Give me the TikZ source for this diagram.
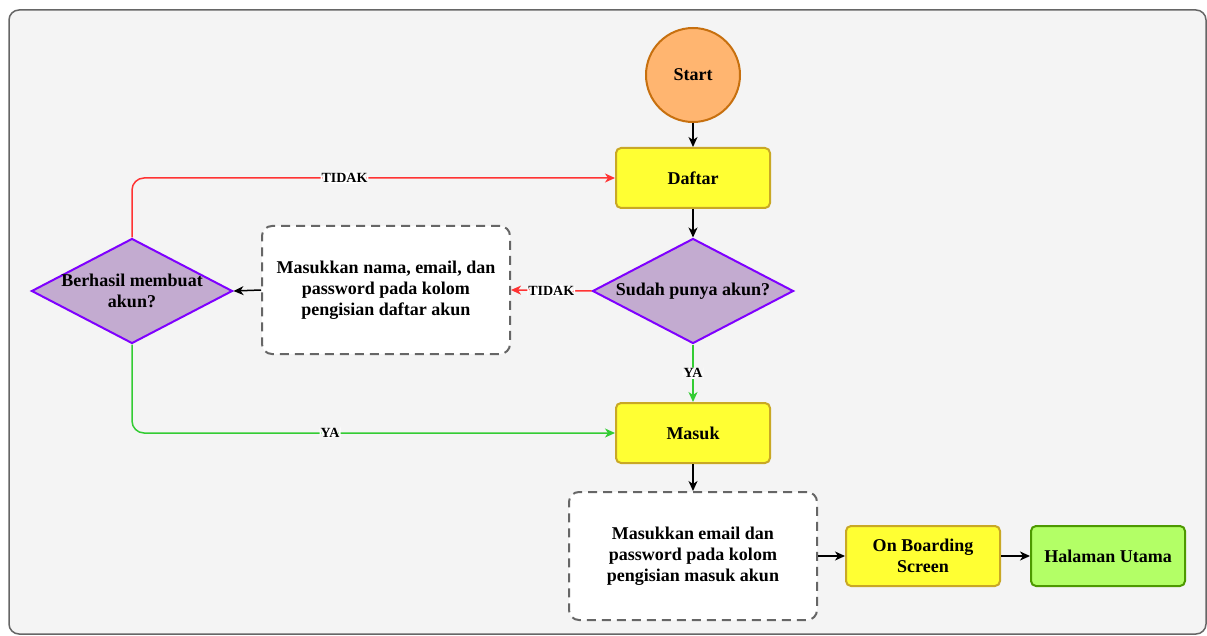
\documentclass[tikz,border=0pt]{standalone}
\usepackage{fontspec}
\setmainfont{Liberation Serif}
\usetikzlibrary{arrows.meta,shapes.geometric,positioning}
\definecolor{framefill}{HTML}{F4F4F4}
\definecolor{framedraw}{HTML}{666666}
\definecolor{startfill}{HTML}{FFB570}
\definecolor{startdraw}{HTML}{C7700F}
\definecolor{yelfill}{HTML}{FFFF33}
\definecolor{yeldraw}{HTML}{C9A825}
\definecolor{purfill}{HTML}{C3ABD0}
\definecolor{purdraw}{HTML}{7F00FF}
\definecolor{grnfill}{HTML}{B3FF66}
\definecolor{grndraw}{HTML}{4D9900}
\definecolor{redline}{HTML}{FF3333}
\definecolor{grnline}{HTML}{33CC33}
\definecolor{dashdraw}{HTML}{666666}
\tikzset{
  txt/.style={font=\bfseries\fontsize{18}{21}\selectfont, align=center, text=black},
  lbl/.style={font=\bfseries\fontsize{14}{16}\selectfont, fill=white, inner sep=1pt, text=black},
  startnode/.style={circle, draw=startdraw, fill=startfill, line width=2pt, minimum size=94pt, inner sep=0pt, txt},
  procbox/.style={rectangle, rounded corners=5pt, draw=yeldraw, fill=yelfill, line width=2pt, minimum width=154pt, minimum height=60pt, inner sep=2pt, txt},
  endbox/.style={procbox, draw=grndraw, fill=grnfill},
  dashbox/.style={rectangle, rounded corners=10pt, draw=dashdraw, fill=white, line width=2pt, dash pattern=on 9pt off 6pt, minimum width=248pt, minimum height=128pt, inner sep=2pt, txt},
  decision/.style={diamond, draw=purdraw, fill=purfill, line width=2pt, minimum width=201pt, minimum height=105pt, inner sep=0pt},
  conn/.style={line width=1.5pt, -{Stealth[length=10pt,width=9pt,inset=3pt]}, rounded corners=12pt},
}
\begin{document}
\begin{tikzpicture}[x=1pt,y=-1pt]
\useasboundingbox (0,0) rectangle (1207,636);
\draw[fill=framefill, draw=framedraw, line width=1.5pt, rounded corners=10pt] (9,10) rectangle (1206,634);

\node[startnode] (start) at (693,75) {Start};
\node[procbox] (daftar) at (693,178) {Daftar};
\node[decision, label={[txt]center:Sudah punya akun?}] (sudah) at (693,291) {};
\node[dashbox] (isi1) at (386,290) {Masukkan nama, email, dan\\password pada kolom\\pengisian daftar akun};
\node[decision, label={[txt]center:Berhasil membuat\\akun?}] (berhasil) at (132,291) {};
\node[procbox] (masuk) at (693,433) {Masuk};
\node[dashbox] (isi2) at (693,556) {Masukkan email dan\\password pada kolom\\pengisian masuk akun};
\node[procbox] (onb) at (923,556) {On Boarding\\Screen};
\node[endbox] (hal) at (1108,556) {Halaman Utama};

\draw[conn] (start) -- (daftar);
\draw[conn] (daftar) -- (sudah);
\draw[conn, redline] (sudah.west) -- node[lbl] {TIDAK} (isi1.east);
\draw[conn, grnline] (sudah.south) -- node[lbl] {YA} (masuk.north);
\draw[conn] (isi1.west) -- (berhasil.east);
\draw[conn, redline] (berhasil.north) |- node[lbl, pos=0.72] {TIDAK} (daftar.west);
\draw[conn, grnline] (berhasil.south) |- node[lbl, pos=0.705] {YA} (masuk.west);
\draw[conn] (masuk) -- (isi2);
\draw[conn] (isi2.east) -- (onb.west);
\draw[conn] (onb.east) -- (hal.west);
\end{tikzpicture}
\end{document}
